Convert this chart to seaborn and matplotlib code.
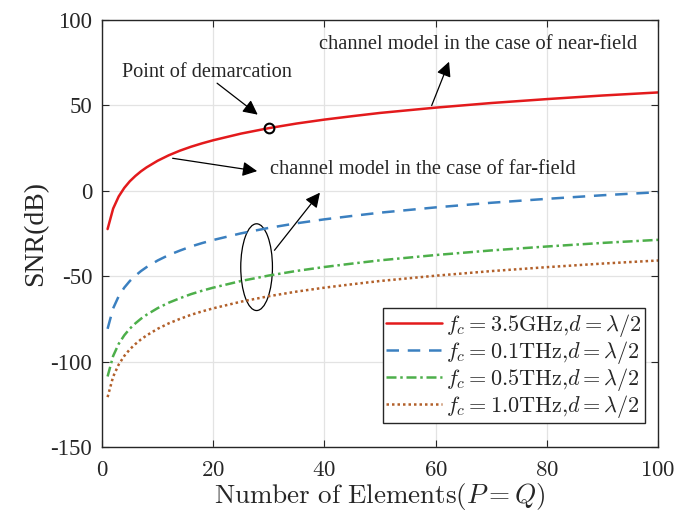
import numpy as np
import pandas as pd
import matplotlib
matplotlib.use('Agg')
import matplotlib.pyplot as plt
import seaborn as sns
from matplotlib.patches import Ellipse

sns.set_style('ticks')
plt.rcParams['font.family'] = ['Liberation Serif', 'DejaVu Serif']
plt.rcParams['mathtext.fontset'] = 'cm'

# number of elements (P = Q)
elements = [1, 2, 3, 4, 5, 6, 7, 8, 10, 12, 14, 16, 18, 20, 25, 30, 35, 40,
            45, 50, 60, 70, 80, 90, 100]

# SNR (dB)
snr_35ghz = [-22.4, -10.4, -3.3, 1.7, 5.6, 8.7, 11.4, 13.7, 17.6, 20.8, 23.5,
             25.8, 27.8, 29.6, 33.5, 36.7, 39.4, 41.7, 43.7, 45.6, 48.7, 51.4,
             53.7, 55.8, 57.6]
snr_01thz = [-80.8, -68.8, -61.7, -56.7, -52.8, -49.7, -47.0, -44.7, -40.8,
             -37.6, -35.0, -32.6, -30.6, -28.8, -24.9, -21.7, -19.0, -16.7,
             -14.7, -12.8, -9.7, -7.0, -4.7, -2.6, -0.8]
snr_05thz = [-108.7, -96.7, -89.6, -84.6, -80.7, -77.6, -74.9, -72.6, -68.7,
             -65.5, -62.9, -60.5, -58.5, -56.7, -52.8, -49.6, -46.9, -44.6,
             -42.6, -40.7, -37.6, -34.9, -32.6, -30.5, -28.7]
snr_10thz = [-120.8, -108.8, -101.7, -96.7, -92.8, -89.7, -87.0, -84.7, -80.8,
             -77.6, -75.0, -72.6, -70.6, -68.8, -64.9, -61.7, -59.0, -56.7,
             -54.7, -52.8, -49.7, -47.0, -44.7, -42.6, -40.8]

labels = [r'$f_c=3.5\mathrm{GHz}{,}d=\lambda/2$',
          r'$f_c=0.1\mathrm{THz}{,}d=\lambda/2$',
          r'$f_c=0.5\mathrm{THz}{,}d=\lambda/2$',
          r'$f_c=1.0\mathrm{THz}{,}d=\lambda/2$']
series = [snr_35ghz, snr_01thz, snr_05thz, snr_10thz]
colors = ['#e31a1c', '#3b80c0', '#4daf4a', '#b2602a']
styles = ['-', (0, (5, 3.5)), (0, (4, 1.5, 1, 1.5)), (0, (1, 1.2))]

xticks = [0, 20, 40, 60, 80, 100]
yticks = [-150, -100, -50, 0, 50, 100]

demarc_x, demarc_y = 30, 36.9

fig = plt.figure(figsize=(6.77, 5.16), dpi=100)
ax = fig.add_axes([0.1507, 0.1337, 0.8213, 0.8275])

for s, lab, c, ls in zip(series, labels, colors, styles):
    sns.lineplot(x=elements, y=s, ax=ax, color=c, linestyle=ls, linewidth=1.8,
                 label=lab)

ax.plot(demarc_x, demarc_y, 'o', mfc='none', mec='black', ms=7, mew=1.5)

ax.set_xlim(0, 100)
ax.set_ylim(-150, 100)
ax.set_xticks(xticks)
ax.set_xticklabels(['$%d$' % v for v in xticks])
ax.set_yticks(yticks)
ax.set_yticklabels([str(v) for v in yticks])
ax.grid(True, color='#e3e3e3', linewidth=0.9)
ax.tick_params(direction='in', top=True, right=True, labelsize=16.5, length=5)
ax.tick_params(axis='x', pad=9)
ax.tick_params(axis='y', pad=7)
for sp in ax.spines.values():
    sp.set_color('#262626')
    sp.set_linewidth(1.0)

ax.set_xlabel(r'$\mathrm{Number\ of\ Elements}(P=Q)$', fontsize=19.5, labelpad=0)
ax.set_ylabel('SNR(dB)', fontsize=20, labelpad=2)

arrow = dict(arrowstyle='-|>', color='black', lw=0.9, mutation_scale=22)
ax.text(18.9, 69.1, 'Point of demarcation', fontsize=14.6, ha='center', va='center')
ax.annotate('', xy=(28.4, 43.6), xytext=(20.3, 64), arrowprops=arrow)
ax.text(67.6, 85.5, 'channel model in the case of near-field', fontsize=14.8,
        ha='center', va='center')
ax.annotate('', xy=(62.6, 77.1), xytext=(59.1, 48.4), arrowprops=arrow)
ax.text(30.2, 12.3, 'channel model in the case of far-field', fontsize=14.8,
        ha='left', va='center')
ax.annotate('', xy=(28.4, 11.3), xytext=(12.2, 19.3), arrowprops=arrow)
ax.add_patch(Ellipse((27.8, -44.7), 5.7, 50.8, fill=False, ec='black', lw=0.9))
ax.annotate('', xy=(39.5, 0.2), xytext=(30.7, -36.1), arrowprops=arrow)

leg = ax.legend(loc='lower right', bbox_to_anchor=(0.9766, 0.0562),
                fontsize=16, frameon=True, fancybox=False,
                edgecolor='#262626', framealpha=1, handlelength=2.5,
                handletextpad=0.2, labelspacing=0.0, borderpad=0.15,
                borderaxespad=0)
leg.get_frame().set_linewidth(1.0)

fig.savefig('out.png', dpi=100)
